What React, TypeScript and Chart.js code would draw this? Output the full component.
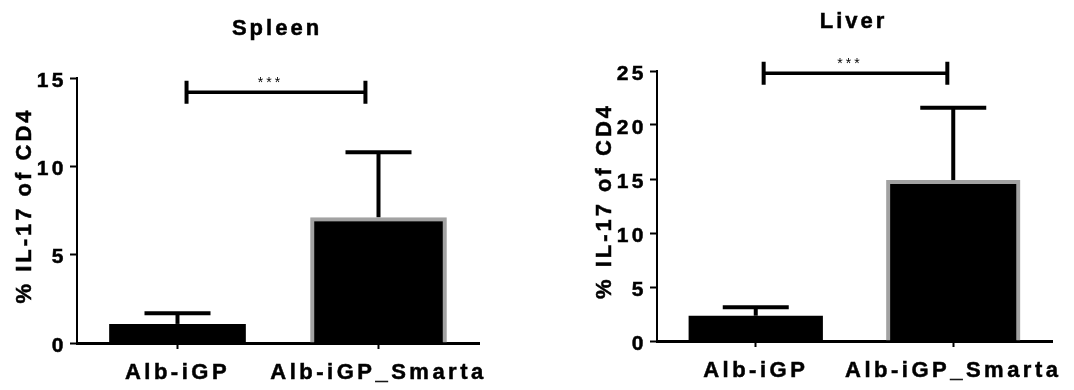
import React, { useEffect, useRef } from "react";
import { Chart, registerables } from "chart.js";

Chart.register(...registerables);

// ---------- data ----------
const categories = ["Alb-iGP", "Alb-iGP_Smarta"];

const spleenTitle = "Spleen";
const spleenMeans = [1.08, 7.12];
const spleenSD = [0.6, 3.68];
const spleenTicks = [0, 5, 10, 15];
const spleenSignificance = 14.2;

const liverTitle = "Liver";
const liverMeans = [2.34, 14.9];
const liverSD = [0.78, 6.7];
const liverTicks = [0, 5, 10, 15, 20, 25];
const liverSignificance = 24.8;

const yAxisTitle = "% IL-17 of CD4";
const significanceLabel = "***";

// ---------- styles / layout ----------
const FONT = "'Liberation Sans', Arial, Helvetica, sans-serif";
const CANVAS_H = 390;
const TICK_SPACING = "3.5px";

type Panel = {
  title: string;
  means: number[];
  sds: number[];
  ticks: number[];
  sig: number;
  canvasLeft: number;
  canvasWidth: number;
  area: { left: number; top: number; right: number; bottom: number };
  bracket: [number, number];
};

const panels: Panel[] = [
  {
    title: spleenTitle,
    means: spleenMeans,
    sds: spleenSD,
    ticks: spleenTicks,
    sig: spleenSignificance,
    canvasLeft: 0,
    canvasWidth: 540,
    area: { left: 77, top: 78, right: 479, bottom: 343 },
    bracket: [0.045, 0.935],
  },
  {
    title: liverTitle,
    means: liverMeans,
    sds: liverSD,
    ticks: liverTicks,
    sig: liverSignificance,
    canvasLeft: 540,
    canvasWidth: 534,
    area: { left: 117, top: 71, right: 512, bottom: 341 },
    bracket: [0.04, 0.97],
  },
];

function boldText(ctx: CanvasRenderingContext2D, text: string, x: number, y: number) {
  ctx.lineWidth = 0.5;
  ctx.strokeText(text, x, y);
  ctx.fillText(text, x, y);
}

const decorPlugin = {
  id: "decor",
  beforeDraw(chart: any) {
    (chart.ctx as any).letterSpacing = TICK_SPACING;
  },
  afterDatasetsDraw(chart: any, _args: any, opts: any) {
    const { ctx, chartArea } = chart;
    const xs = chart.scales.x;
    const ys = chart.scales.y;
    ctx.save();
    ctx.strokeStyle = "#000";
    ctx.fillStyle = "#000";
    ctx.lineCap = "butt";

    // error bars (upper only)
    opts.means.forEach((m: number, i: number) => {
      const cx = xs.getPixelForValue(i);
      const yb = ys.getPixelForValue(m);
      const yt = ys.getPixelForValue(m + opts.sds[i]);
      ctx.lineWidth = 4;
      ctx.beginPath();
      ctx.moveTo(cx, yb);
      ctx.lineTo(cx, yt);
      ctx.stroke();
      ctx.beginPath();
      ctx.moveTo(cx - 33, yt);
      ctx.lineTo(cx + 33, yt);
      ctx.stroke();
    });

    // significance bracket
    const bx0 = xs.getPixelForValue(opts.bracket[0]);
    const bx1 = xs.getPixelForValue(opts.bracket[1]);
    const by = ys.getPixelForValue(opts.sig);
    ctx.lineWidth = 3.5;
    ctx.beginPath();
    ctx.moveTo(bx0, by);
    ctx.lineTo(bx1, by);
    ctx.stroke();
    ctx.lineWidth = 4;
    ctx.beginPath();
    ctx.moveTo(bx0, by - 11.5);
    ctx.lineTo(bx0, by + 11.5);
    ctx.moveTo(bx1, by - 11.5);
    ctx.lineTo(bx1, by + 11.5);
    ctx.stroke();

    (ctx as any).letterSpacing = "3px";
    ctx.font = `14px ${FONT}`;
    ctx.textAlign = "center";
    ctx.textBaseline = "alphabetic";
    ctx.fillText(significanceLabel, (bx0 + bx1) / 2 - 5.5, by - 5);

    // title
    (ctx as any).letterSpacing = "3px";
    ctx.font = `bold 22px ${FONT}`;
    boldText(ctx, opts.title, (chartArea.left + chartArea.right) / 2 - 1, chartArea.top - 43);

    // y axis title
    (ctx as any).letterSpacing = "3px";
    ctx.save();
    ctx.translate(chartArea.left - 46, (chartArea.top + chartArea.bottom) / 2 - 5);
    ctx.rotate(-Math.PI / 2);
    boldText(ctx, yAxisTitle, 0, 0);
    ctx.restore();

    ctx.restore();
    (ctx as any).letterSpacing = TICK_SPACING;
  },
};

function makeConfig(p: Panel): any {
  const a = p.area;
  return {
    type: "bar",
    data: {
      labels: categories,
      datasets: [
        {
          data: p.means,
          backgroundColor: "#000",
          borderColor: ["#000", "#a2a2a2"],
          borderWidth: [0, 4],
          borderSkipped: "start",
          barPercentage: 0.68,
          categoryPercentage: 1,
        },
      ],
    },
    options: {
      responsive: false,
      animation: false,
      devicePixelRatio: 1,
      events: [],
      layout: {
        padding: { left: 0, top: a.top, right: p.canvasWidth - a.right, bottom: 0 },
      },
      plugins: {
        legend: { display: false },
        tooltip: { enabled: false },
        title: { display: false },
        decor: {
          means: p.means,
          sds: p.sds,
          sig: p.sig,
          title: p.title,
          bracket: p.bracket,
        },
      },
      scales: {
        x: {
          offset: true,
          grid: {
            drawOnChartArea: false,
            offset: false,
            tickLength: 6,
            tickColor: "#000",
            tickWidth: 2,
            color: "#000",
          },
          border: { display: true, color: "#000", width: 3 },
          ticks: {
            color: "#000",
            font: { family: FONT, size: 22, weight: "bold" },
            textStrokeColor: "#000",
            textStrokeWidth: 0.5,
            padding: 11,
            maxRotation: 0,
            minRotation: 0,
            autoSkip: false,
          },
          afterFit: (s: any) => {
            s.height = CANVAS_H - a.bottom;
            s.paddingLeft = 0;
            s.paddingRight = 0;
          },
        },
        y: {
          min: p.ticks[0],
          max: p.ticks[p.ticks.length - 1],
          grid: {
            drawOnChartArea: false,
            tickLength: 7,
            tickColor: "#000",
            tickWidth: 2,
            color: "#000",
          },
          border: { display: true, color: "#000", width: 2 },
          ticks: {
            color: "#000",
            font: { family: FONT, size: 21, weight: "bold" },
            textStrokeColor: "#000",
            textStrokeWidth: 0.5,
            padding: 3,
            labelOffset: 3,
          },
          afterBuildTicks: (s: any) => {
            s.ticks = p.ticks.map((v) => ({ value: v }));
          },
          afterFit: (s: any) => {
            s.width = a.left;
            s.paddingTop = 0;
            s.paddingBottom = 0;
          },
        },
      },
    },
    plugins: [decorPlugin],
  };
}

function ChartPanel({ panel }: { panel: Panel }) {
  const ref = useRef<HTMLCanvasElement | null>(null);
  useEffect(() => {
    if (!ref.current) return;
    const chart = new Chart(ref.current, makeConfig(panel));
    return () => chart.destroy();
  }, [panel]);
  return (
    <canvas
      ref={ref}
      width={panel.canvasWidth}
      height={CANVAS_H}
      style={{
        position: "absolute",
        left: panel.canvasLeft,
        top: 0,
        width: panel.canvasWidth,
        height: CANVAS_H,
      }}
    />
  );
}

export default function App() {
  return (
    <div
      style={{
        position: "absolute",
        left: 0,
        top: 0,
        width: 1074,
        height: CANVAS_H,
        background: "#fff",
        overflow: "hidden",
      }}
    >
      {panels.map((p) => (
        <ChartPanel key={p.title} panel={p} />
      ))}
    </div>
  );
}
